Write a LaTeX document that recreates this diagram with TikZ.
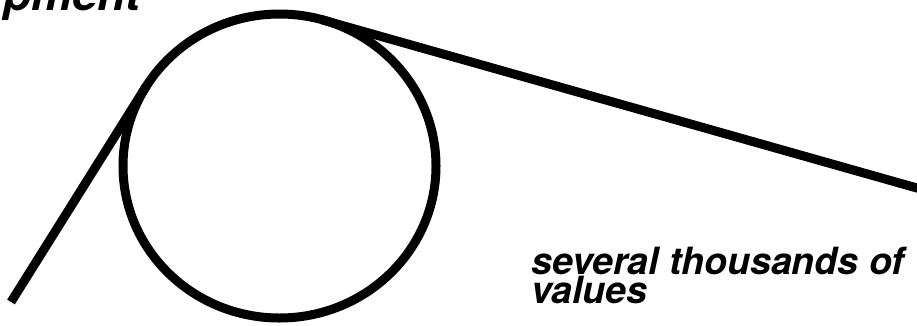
\documentclass[tikz,border=0pt]{standalone}
\usepackage{fontspec}
\setmainfont{TeX Gyre Heros}
\begin{document}
\begin{tikzpicture}[x=1pt,y=-1pt,
  stroke/.style={line width=9pt,line cap=butt,black},
  labeltext/.style={anchor=base west,inner sep=0pt,font=\fontsize{37.5}{30}\selectfont\bfseries\itshape},
  titletext/.style={anchor=base west,inner sep=0pt,font=\fontsize{46}{50}\selectfont\bfseries\itshape}]
\useasboundingbox (0,0) rectangle (917,325);
\clip (0,0) rectangle (917,325);
\fill[white] (0,0) rectangle (917,325);
% wheel
\coordinate (c) at (279.5,166);
\draw[stroke] (c) ellipse [x radius=156.5pt, y radius=152pt];
% tangent points and free ends
\coordinate (tl) at (146.3,86.1);
\coordinate (el) at (11,302);
\coordinate (tr) at (322.2,19.8);
\coordinate (er) at (930,191.7);
\draw[stroke] (tl) -- (el);
\draw[stroke] (tr) -- (er);
% texts
\node[titletext] (title) at (3,10) {pment};
\node[labeltext] (label1) at (531,274.5) {several thousands of};
\node[labeltext] (label2) at (531,303.5) {values};
\end{tikzpicture}
\end{document}
